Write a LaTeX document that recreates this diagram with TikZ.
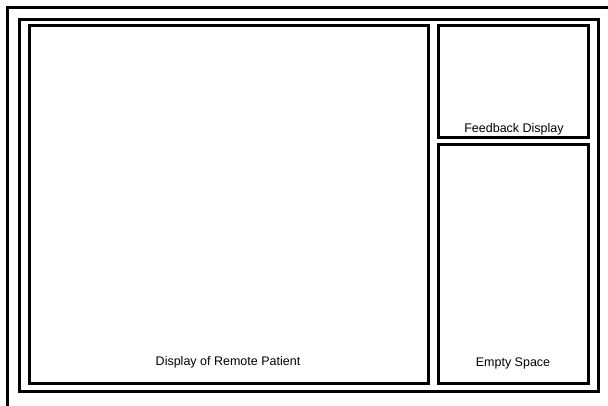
\documentclass[tikz,border=0pt]{standalone}
\usepackage{fontspec}
\setmainfont{Liberation Sans}
\begin{document}
\begin{tikzpicture}[x=1pt,y=-1pt,
  frame/.style={draw=black,line width=3pt},
  box/.style={draw=black,line width=3pt,rectangle,inner sep=0pt,outer sep=0pt},
  lbl/.style={font=\fontsize{12.5}{14}\selectfont,anchor=base,inner sep=0pt}]
\useasboundingbox (0,0) rectangle (608,405);
% outer frame (extends beyond the page)
\coordinate (o1) at (7.5,420);
\coordinate (o2) at (7.5,7.5);
\coordinate (o3) at (620,7.5);
\draw[frame,line join=miter] (o1) -- (o2) -- (o3);
% second frame
\node[box,minimum width=579pt,minimum height=371.5pt] (frame2) at (309,205.25) {};
% main display
\node[box,minimum width=399pt,minimum height=358pt] (main) at (229,204) {};
% feedback display
\node[box,minimum width=150pt,minimum height=112pt] (fb) at (513.5,81) {};
% empty space
\node[box,minimum width=150pt,minimum height=238.5pt] (empty) at (513.5,263.75) {};
% labels
\node[lbl] (mainlbl) at (228,365) {Display of Remote Patient};
\node[lbl] (fblbl) at (514,132) {Feedback Display};
\node[lbl] (emptylbl) at (513,366) {Empty Space};
\end{tikzpicture}
\end{document}
